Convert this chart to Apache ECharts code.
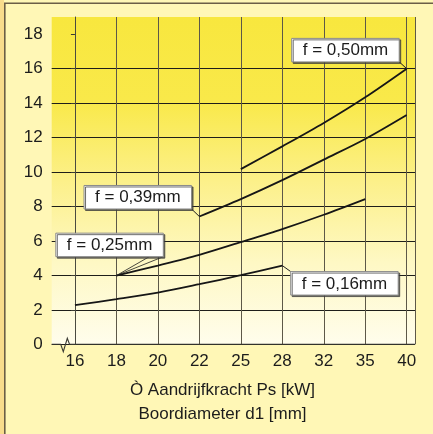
<!DOCTYPE html>
<html>
<head>
<meta charset="utf-8">
<script src="https://cdn.jsdelivr.net/npm/echarts@6/dist/echarts.min.js"></script>
<style>
  html, body { margin: 0; padding: 0; background: #fff7b6; }
  #chart { width: 433px; height: 434px; }
</style>
</head>
<body>
<div id="chart"></div>
<script>
// Drill diameter categories (x axis, evenly spaced)
const diameters = ['16', '18', '20', '22', '25', '28', '32', '35', '40'];
// Drive power ticks (y axis)
const powerTicks = [0, 2, 4, 6, 8, 10, 12, 14, 16, 18];

// Feed curves: [diameter index, power kW]
const feed016 = [[0, 2.27], [1, 2.62], [2, 3.0], [3, 3.49], [4, 4.01], [5, 4.57]];
const feed025 = [[1, 3.99], [2, 4.57], [3, 5.19], [4, 5.93], [5, 6.69], [6, 7.52], [7, 8.43]];
const feed039 = [[3, 7.42], [4, 8.43], [5, 9.53], [6, 10.72], [7, 11.92], [8, 13.31]];
const feed050 = [[4, 10.17], [5, 11.49], [6, 12.85], [7, 14.34], [8, 16.0]];

const seriesNames = ['f = 0,16mm', 'f = 0,25mm', 'f = 0,39mm', 'f = 0,50mm'];
const seriesData = [feed016, feed025, feed039, feed050];

const xTitle1 = 'Ò Aandrijfkracht Ps [kW]';
const xTitle2 = 'Boordiameter d1 [mm]';

const FONT = '"Liberation Sans", Arial, Helvetica, sans-serif';
const FS = 17;
const INK = '#1c1c1c';

const chart = echarts.init(document.getElementById('chart'), null, { renderer: 'canvas' });

const xMin = -0.56, xMax = 8.2, yMax = 19;

chart.setOption({
  backgroundColor: '#fff7b6',
  animation: false,
  grid: {
    left: 51.7, right: 18, top: 17, bottom: 89.7,
    show: true,
    borderWidth: 0,
    backgroundColor: {
      type: 'linear', x: 0, y: 0, x2: 0, y2: 1,
      colorStops: [
        { offset: 0, color: '#f8e73e' },
        { offset: 0.26, color: '#f9e94a' },
        { offset: 0.5, color: '#fcf089' },
        { offset: 0.75, color: '#fef8c4' },
        { offset: 1, color: '#fffdec' }
      ]
    }
  },
  xAxis: {
    type: 'value',
    min: xMin, max: xMax,
    axisLine: { show: false },
    axisTick: { show: false, customValues: diameters.map((d, i) => i).concat([xMax]) },
    axisLabel: {
      customValues: diameters.map((d, i) => i),
      formatter: v => diameters[Math.round(v)],
      color: INK, fontFamily: FONT, fontSize: FS, margin: 9
    },
    splitLine: { show: true, lineStyle: { color: '#5d5848', width: 1 } }
  },
  yAxis: {
    type: 'value',
    min: 0, max: yMax,
    axisLine: { show: true, lineStyle: { color: '#4a4a40', width: 1 } },
    axisTick: { show: true, length: 4, customValues: powerTicks, lineStyle: { color: '#3a3a32' } },
    axisLabel: { customValues: powerTicks, color: INK, fontFamily: FONT, fontSize: FS, margin: 9 },
    splitLine: { show: true, showMaxLine: false, lineStyle: { color: '#1e1e1a', width: 1 } }
  },
  series: seriesData.map((d, i) => ({
    name: seriesNames[i],
    type: 'line',
    data: d,
    smooth: 0.3,
    showSymbol: false,
    lineStyle: { color: '#161616', width: 1.8 },
    z: 5
  }))
});

// Annotation boxes placed relative to their anchor point on each curve
const callouts = [
  { s: 3, p: feed050[feed050.length - 1], dx: -115, dy: -30.3, from: 'br' },
  { s: 2, p: feed039[0], dx: -115.3, dy: -31, from: 'br' },
  { s: 1, p: feed025[0], dx: -60.6, dy: -42.4, from: 'wedge' },
  { s: 0, p: feed016[feed016.length - 1], dx: 8.4, dy: 6, from: 'tl' }
];
const BW = 107.5, BH = 23.5;

function px(pt) { return chart.convertToPixel({ gridIndex: 0 }, pt); }

const elements = [];

// outer frame: left strip and edge lines
elements.push({ type: 'rect', shape: { x: 0, y: 0, width: 4, height: 434 }, style: { fill: '#f8dc8c' }, z: 0 });
elements.push({ type: 'line', shape: { x1: 4.8, y1: 3, x2: 4.8, y2: 434 }, style: { stroke: '#6b5e46', lineWidth: 1.6 }, z: 1 });
elements.push({ type: 'line', shape: { x1: 4, y1: 3.2, x2: 433, y2: 3.2 }, style: { stroke: '#6b5e46', lineWidth: 1.4 }, z: 1 });

// x axis line with break mark near the origin
const o = px([xMin, 0]);
const e = px([xMax, 0]);
const ay = o[1];
elements.push({
  type: 'polyline',
  shape: { points: [[o[0], ay], [o[0] + 9, ay], [o[0] + 11.6, ay + 7.4], [o[0] + 15.6, ay - 6], [o[0] + 17.8, ay], [e[0], ay]] },
  style: { stroke: '#3a3a32', lineWidth: 1.1, fill: null },
  z: 4
});

callouts.forEach(c => {
  const a = px(c.p);
  const bx = a[0] + c.dx, by = a[1] + c.dy;
  let leader;
  if (c.from === 'br') {
    leader = { type: 'polyline', shape: { points: [[bx + BW, by + BH], a] }, style: { stroke: INK, lineWidth: 1, fill: null } };
  } else if (c.from === 'tl') {
    leader = { type: 'polyline', shape: { points: [a, [bx, by]] }, style: { stroke: INK, lineWidth: 1, fill: null } };
  } else {
    leader = { type: 'polyline', shape: { points: [[bx + BW - 14, by + BH], a, [bx + BW, by + BH]] }, style: { stroke: INK, lineWidth: 0.8, fill: null } };
  }
  elements.push(Object.assign(leader, { z: 10 }));
  elements.push({
    type: 'rect',
    shape: { x: bx, y: by, width: BW, height: BH },
    style: { fill: '#ffffff', stroke: '#8a8a8a', lineWidth: 1, shadowColor: 'rgba(60,60,60,0.75)', shadowOffsetX: 1.5, shadowOffsetY: 1.5, shadowBlur: 0 },
    z: 11
  });
  elements.push({
    type: 'text',
    x: bx + BW / 2, y: by + BH / 2 + 0.5,
    style: { text: seriesNames[c.s], fill: INK, font: FS + 'px ' + FONT, align: 'center', verticalAlign: 'middle' },
    z: 12
  });
});

// axis titles
elements.push({ type: 'text', x: 222.5, y: 390, style: { text: xTitle1, fill: INK, font: FS + 'px ' + FONT, align: 'center', verticalAlign: 'middle' }, z: 12 });
elements.push({ type: 'text', x: 222.5, y: 414, style: { text: xTitle2, fill: INK, font: FS + 'px ' + FONT, align: 'center', verticalAlign: 'middle' }, z: 12 });

chart.setOption({ graphic: { elements } });
</script>
</body>
</html>
